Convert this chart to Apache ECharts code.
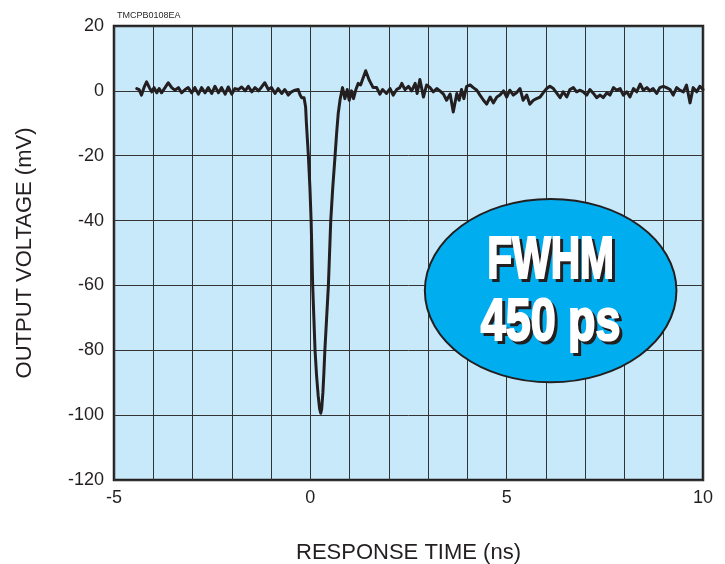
<!DOCTYPE html>
<html>
<head>
<meta charset="utf-8">
<script src="https://cdn.jsdelivr.net/npm/echarts@6/dist/echarts.min.js"></script>
<style>
html,body{margin:0;padding:0;background:#fff;}
#chart{width:725px;height:564px;}
</style>
</head>
<body>
<div id="chart"></div>
<script>
// ---- data ----
var timeNs = [
-4.42,-4.36,-4.30,-4.23,-4.17,-4.10,-4.04,-3.98,-3.91,-3.85,-3.79,-3.70,-3.62,-3.53,-3.45,-3.36,-3.28,-3.19,-3.11,-3.02,
-2.94,-2.85,-2.77,-2.68,-2.60,-2.51,-2.43,-2.34,-2.26,-2.17,-2.09,-2.00,-1.92,-1.83,-1.75,-1.66,-1.58,-1.49,-1.41,-1.32,
-1.24,-1.16,-1.07,-0.99,-0.90,-0.82,-0.73,-0.65,-0.56,-0.48,-0.39,-0.31,-0.26,-0.22,-0.16,-0.12,
-0.10,-0.07,-0.05,-0.01,0.02,0.04,0.06,0.09,0.12,0.16,0.20,0.235,0.265,0.29,0.32,0.345,0.37,0.415,0.46,0.49,0.52,0.57,0.63,0.67,0.71,0.76,
0.82,0.88,0.94,0.99,1.05,1.10,1.16,1.22,1.28,1.41,1.50,1.60,1.69,1.77,1.84,1.94,2.03,2.11,2.20,2.28,2.33,2.41,2.50,2.58,2.67,2.72,
2.79,2.88,2.96,3.05,3.13,3.22,3.30,3.39,3.47,3.56,3.64,3.73,3.79,3.85,3.91,3.98,4.07,4.15,4.24,4.32,4.41,4.49,4.58,4.66,4.75,4.83,4.92,
5.00,5.08,5.17,5.25,5.34,5.42,5.51,5.59,5.68,5.76,5.85,5.93,6.02,6.10,6.19,6.27,6.36,6.44,6.53,6.61,6.70,6.78,6.87,6.95,
7.04,7.12,7.21,7.29,7.38,7.46,7.55,7.63,7.72,7.80,7.89,7.97,8.06,8.14,8.23,8.31,8.40,8.48,8.57,8.65,8.73,8.82,8.90,8.99,
9.07,9.16,9.24,9.33,9.41,9.50,9.58,9.67,9.75,9.84,9.92,10.0
];
var voltageMv = [
0.7,0.4,-1.3,1.2,2.8,1.0,-0.3,1.0,-0.6,0.7,-0.6,1.0,2.5,1.0,0.2,1.0,-0.6,0.4,1.0,-0.6,
1.0,-1.0,1.0,-0.6,1.0,-0.8,1.4,-0.6,1.0,-1.0,1.2,-1.0,0.7,0.4,1.2,0.0,1.4,-0.3,1.0,0.0,
1.2,2.5,0.4,1.0,-0.8,0.7,-0.8,0.4,-1.3,-0.3,0.2,0.4,-1.3,-2.1,-2.1,-5.0,
-10,-16,-20,-30,-40,-50,-60,-70,-80,-88,-94,-98,-99.4,-98,-93,-87,-80,-70,-60,-50,-40,-30,-20,-13,-7,-2.5,
1.0,-2.4,0.4,-2.9,0.0,-2.4,0.4,2.3,1.8,6.2,3.3,1.0,1.0,-1.0,0.4,-0.8,0.7,-1.3,0.4,1.0,2.3,0.4,1.4,0.0,2.3,-0.8,
3.5,-1.9,1.8,1.0,-0.3,0.7,0.0,-1.0,-2.9,-1.0,-6.5,-0.8,-2.9,0.4,-2.4,1.4,1.8,1.0,0.2,-1.3,-2.9,-4.1,-1.9,-3.7,-1.9,-1.3,0.0,
-1.9,0.2,-1.3,-0.6,0.7,-2.9,-1.3,-4.1,-2.9,-2.4,-1.9,-0.6,0.7,1.4,0.7,-0.6,-2.1,-0.3,-1.9,0.4,1.0,-0.3,0.2,-0.3,
-1.3,0.4,-0.8,-2.1,-1.3,-2.1,-0.6,-1.3,1.0,0.2,0.7,-1.3,-0.3,-1.9,0.7,-0.3,2.1,0.2,1.0,0.0,0.7,-0.8,1.0,1.4,
1.0,0.4,-1.3,1.0,0.2,-0.3,1.8,-3.7,1.0,-0.3,1.4,0.4
];
var xTickLabels = ['-5','0','5','10'];
var yTickLabels = ['20','0','-20','-40','-60','-80','-100','-120'];
var axisTitles = { x: 'RESPONSE TIME (ns)', y: 'OUTPUT VOLTAGE (mV)' };
var figureCode = 'TMCPB0108EA';
var annotationLines = ['FWHM', '450 ps'];
var annotationAnchor = [6.12, -61.6]; // data coords of the ellipse centre

var seriesData = timeNs.map(function (t, i) { return [t, voltageMv[i]]; });

var chart = echarts.init(document.getElementById('chart'), null, { renderer: 'canvas' });
var ink = '#231f20';
var font = 'Liberation Sans, Arial, Helvetica, sans-serif';

chart.setOption({
  animation: false,
  backgroundColor: '#ffffff',
  title: {
    text: figureCode, left: 112, top: 6,
    textStyle: { fontSize: 9, fontWeight: 'normal', color: ink, fontFamily: font }
  },
  grid: {
    left: 114, right: 22, top: 26, bottom: 84,
    containLabel: false, outerBoundsMode: 'none',
    show: true, backgroundColor: '#c8e9f9', borderColor: ink, borderWidth: 2.5
  },
  xAxis: {
    type: 'value', min: -5, max: 10, interval: 1,
    name: axisTitles.x, nameLocation: 'middle', nameGap: 62,
    nameTextStyle: { fontSize: 22, color: ink, fontFamily: font },
    axisLine: { show: false }, axisTick: { show: false },
    axisLabel: {
      margin: 9, fontSize: 18, color: ink, fontFamily: font,
      showMinLabel: true, showMaxLabel: true,
      formatter: function (v) {
        var s = String(Math.round(v));
        return xTickLabels.indexOf(s) >= 0 ? s : '';
      }
    },
    splitLine: { show: true, lineStyle: { color: '#333333', width: 1 } }
  },
  yAxis: {
    type: 'value', min: -120, max: 20, interval: 20,
    name: axisTitles.y, nameLocation: 'middle', nameGap: 78,
    nameTextStyle: { fontSize: 22, color: ink, fontFamily: font },
    axisLine: { show: false }, axisTick: { show: false },
    axisLabel: {
      margin: 10, fontSize: 18, color: ink, fontFamily: font,
      showMinLabel: true, showMaxLabel: true,
      formatter: function (v) {
        var s = String(Math.round(v));
        return yTickLabels.indexOf(s) >= 0 ? s : '';
      }
    },
    splitLine: { show: true, lineStyle: { color: '#333333', width: 1 } }
  },
  series: [{
    type: 'line', data: seriesData, showSymbol: false, symbol: 'none',
    lineStyle: { color: ink, width: 3, join: 'round', cap: 'round' },
    z: 3
  }]
});

var c = chart.convertToPixel({ gridIndex: 0 }, annotationAnchor);
var cx = c[0], cy = c[1];
var annFont = 'bold 59px ' + font;
function label(txt, dy, sx, fill, off) {
  return {
    type: 'text', x: cx + off, y: cy + dy + off, scaleX: sx, z: 20,
    style: {
      text: txt, font: annFont, fill: fill, align: 'center', verticalAlign: 'middle',
      stroke: fill, lineWidth: 2.2
    }
  };
}
chart.setOption({
  graphic: [
    { type: 'ellipse', shape: { cx: cx, cy: cy, rx: 125.8, ry: 91.7 }, z: 10,
      style: { fill: '#00aeef', stroke: ink, lineWidth: 2 } },
    label(annotationLines[0], -29, 0.69, ink, 3),
    label(annotationLines[0], -29, 0.69, '#ffffff', 0),
    label(annotationLines[1], 33, 0.76, ink, 3),
    label(annotationLines[1], 33, 0.76, '#ffffff', 0)
  ]
});
</script>
</body>
</html>
